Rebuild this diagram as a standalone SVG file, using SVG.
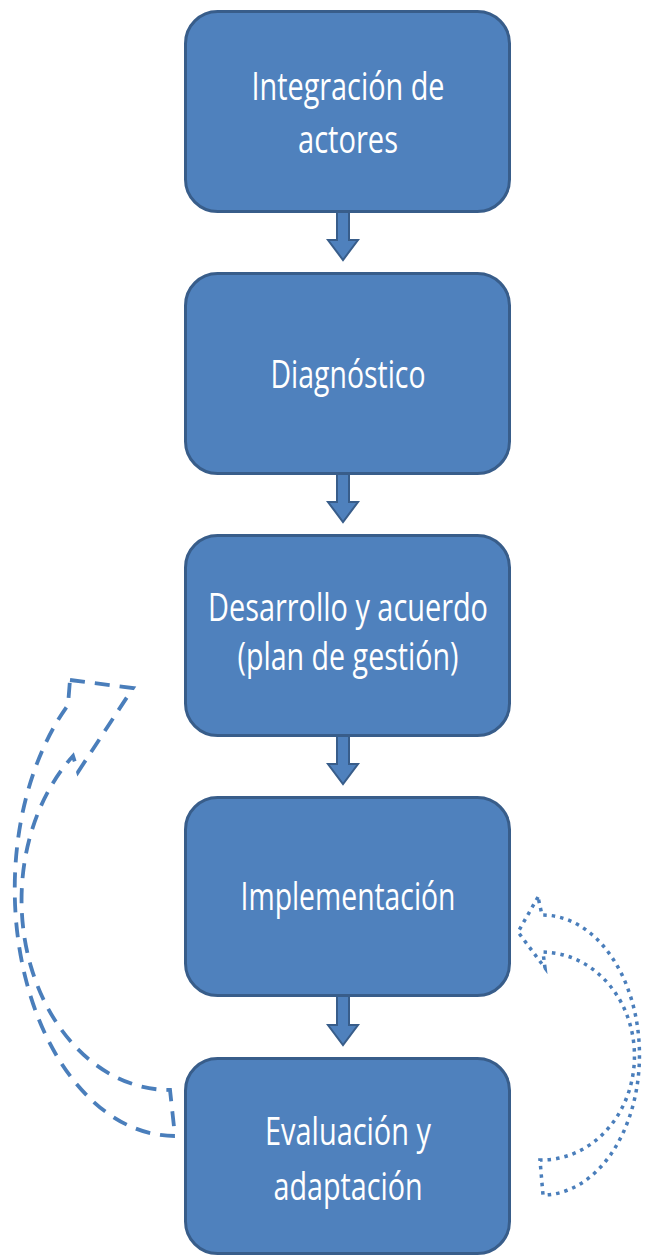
<svg xmlns="http://www.w3.org/2000/svg" width="647" height="1256" viewBox="0 0 647 1256">
<style>
.box{fill:#4F81BD;stroke:#385D8A;stroke-width:3}
.lbl{fill:#FFFFFF;font-family:"Open Sans","Noto Sans","Liberation Sans",sans-serif;font-size:38px;text-anchor:middle}
.down{fill:#4F81BD;stroke:#385D8A;stroke-width:2;stroke-linejoin:miter}
.dash{fill:none;stroke:#4A7EBB;stroke-width:3.8;stroke-dasharray:15 10}
.dot{fill:none;stroke:#4A7EBB;stroke-width:3.5;stroke-dasharray:3.5 5}
</style>
<rect width="647" height="1256" fill="#FFFFFF"/>
<g id="node1">
<rect class="box" x="185.5" y="11.5" width="324" height="200" rx="32" ry="32"/>
<text class="lbl" x="348" y="100" textLength="193" lengthAdjust="spacingAndGlyphs">Integración de</text>
<text class="lbl" x="348" y="153" textLength="100" lengthAdjust="spacingAndGlyphs">actores</text>
</g>
<g id="node2">
<rect class="box" x="185.5" y="273.5" width="324" height="200" rx="32" ry="32"/>
<text class="lbl" x="348" y="388" textLength="155" lengthAdjust="spacingAndGlyphs">Diagnóstico</text>
</g>
<g id="node3">
<rect class="box" x="185.5" y="535.5" width="324" height="200" rx="32" ry="32"/>
<text class="lbl" x="348" y="621" textLength="280" lengthAdjust="spacingAndGlyphs">Desarrollo y acuerdo</text>
<text class="lbl" x="348" y="670" textLength="221" lengthAdjust="spacingAndGlyphs">(plan de gestión)</text>
</g>
<g id="node4">
<rect class="box" x="185.5" y="797.5" width="324" height="198" rx="32" ry="32"/>
<text class="lbl" x="348" y="910" textLength="215" lengthAdjust="spacingAndGlyphs">Implementación</text>
</g>
<g id="node5">
<rect class="box" x="185.5" y="1058.5" width="324" height="195" rx="32" ry="32"/>
<text class="lbl" x="348" y="1145" textLength="166" lengthAdjust="spacingAndGlyphs">Evaluación y</text>
<text class="lbl" x="348" y="1200" textLength="149" lengthAdjust="spacingAndGlyphs">adaptación</text>
</g>
<g id="connectors">
<polygon class="down" points="337,212 349,212 349,240 358,240 343,260 328,240 337,240"/>
<polygon class="down" points="337,474 349,474 349,502 358,502 343,522 328,502 337,502"/>
<polygon class="down" points="337,736 349,736 349,764 358,764 343,784 328,764 337,764"/>
<polygon class="down" points="337,996 349,996 349,1025 358,1025 343,1045 328,1025 337,1025"/>
<path class="dash" d="M70,680 L133,688 L78,772 L73,756 A148,190 0 0 0 170,1090 L175,1136 A160,247 0 0 1 68,705 Z"/>
<path class="dot" d="M538,897 L518,932 L545,968 L543,952 A93,104 0 0 1 540,1160 L543,1195 A97,140 0 0 0 542,915 Z"/>
</g>
</svg>
